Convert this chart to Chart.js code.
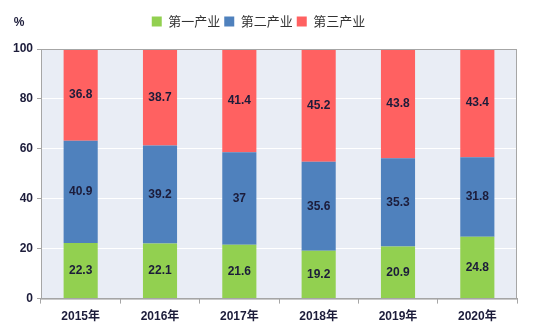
<!DOCTYPE html>
<html>
<head>
<meta charset="utf-8">
<script src="https://cdn.jsdelivr.net/npm/chart.js@4/dist/chart.umd.min.js"></script>
<style>
  html, body { margin: 0; padding: 0; background: #fff; }
  #wrap { width: 534px; height: 336px; }
</style>
</head>
<body>
<div id="wrap"><canvas id="chart"></canvas></div>
<script>
const years = ["2015年", "2016年", "2017年", "2018年", "2019年", "2020年"];
const primary = [22.3, 22.1, 21.6, 19.2, 20.9, 24.8];
const secondary = [40.9, 39.2, 37, 35.6, 35.3, 31.8];
const tertiary = [36.8, 38.7, 41.4, 45.2, 43.8, 43.4];
const seriesNames = ["第一产业", "第二产业", "第三产业"];
const yTicks = [0, 20, 40, 60, 80, 100];

const FONT = "'Liberation Sans', 'DejaVu Sans', 'Noto Sans CJK SC', sans-serif";
const textColor = "#1c1c3a";

// plot background + outer border
const plotBg = {
  id: "plotBg",
  beforeDraw(chart) {
    const { ctx, chartArea: a } = chart;
    ctx.save();
    ctx.fillStyle = "#e9edf5";
    ctx.fillRect(a.left, a.top, a.right - a.left, a.bottom - a.top);
    ctx.restore();
  },
  afterDraw(chart) {
    const { ctx, chartArea: a } = chart;
    ctx.save();
    ctx.strokeStyle = "#a6a6a6";
    ctx.lineWidth = 1;
    ctx.strokeRect(a.left + 0.5, a.top + 0.5, a.right - a.left - 1, a.bottom - a.top);
    // unit label
    ctx.fillStyle = textColor;
    ctx.font = "bold 12px " + FONT;
    ctx.textAlign = "center";
    ctx.textBaseline = "middle";
    ctx.fillText("%", 19, 23);
    ctx.restore();
  }
};

// value labels inside segments
const segLabels = {
  id: "segLabels",
  afterDatasetsDraw(chart) {
    const { ctx } = chart;
    ctx.save();
    ctx.fillStyle = textColor;
    ctx.font = "bold 12px " + FONT;
    ctx.textAlign = "center";
    ctx.textBaseline = "middle";
    chart.data.datasets.forEach((ds, i) => {
      chart.getDatasetMeta(i).data.forEach((bar, j) => {
        const mid = (bar.y + bar.base) / 2;
        ctx.fillText(String(ds.data[j]), bar.x, mid);
      });
    });
    ctx.restore();
  }
};

// fixed legend height so the plot starts where it should
const legendHeight = {
  id: "legendHeight",
  beforeInit(chart) {
    const fit = chart.legend.fit;
    chart.legend.fit = function () {
      fit.bind(chart.legend)();
      this.height = 38;
    };
  }
};

new Chart(document.getElementById("chart"), {
  type: "bar",
  data: {
    labels: years,
    datasets: [
      { label: seriesNames[0], data: primary, backgroundColor: "#92d050" },
      { label: seriesNames[1], data: secondary, backgroundColor: "#4f81bd" },
      { label: seriesNames[2], data: tertiary, backgroundColor: "#ff6161" }
    ]
  },
  options: {
    responsive: true,
    maintainAspectRatio: false,
    animation: false,
    layout: { padding: { left: 0, right: 17, top: 11, bottom: 6 } },
    datasets: { bar: { categoryPercentage: 1, barPercentage: 0.43 } },
    plugins: {
      legend: {
        position: "top",
        labels: {
          boxWidth: 10,
          boxHeight: 10,
          padding: 4,
          color: "#333",
          font: { size: 13, family: "'Noto Sans CJK SC', sans-serif" }
        }
      },
      tooltip: { enabled: false }
    },
    scales: {
      x: {
        stacked: true,
        grid: { drawOnChartArea: false, drawTicks: true, offset: true, tickLength: 5, color: "#a6a6a6" },
        border: { color: "#a6a6a6" },
        ticks: {
          color: textColor,
          padding: 6,
          font: { size: 12, weight: "bold", family: FONT }
        }
      },
      y: {
        stacked: true,
        min: 0,
        max: 100,
        afterFit(scale) { scale.width = 41; },
        afterBuildTicks(scale) { scale.ticks = yTicks.map(v => ({ value: v })); },
        grid: { color: "#ffffff", lineWidth: 1, tickColor: "#a6a6a6", tickLength: 4 },
        border: { color: "#a6a6a6" },
        ticks: {
          color: textColor,
          padding: 4,
          font: { size: 12, weight: "bold", family: FONT }
        }
      }
    }
  },
  plugins: [plotBg, segLabels, legendHeight]
});
</script>
</body>
</html>
